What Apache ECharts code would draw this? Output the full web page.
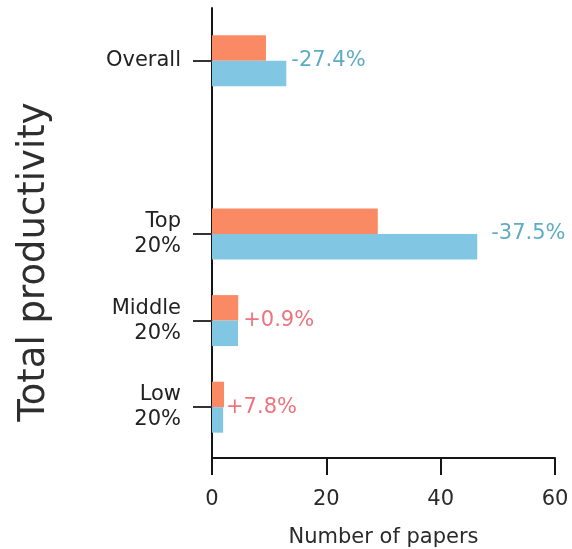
<!DOCTYPE html>
<html>
<head>
<meta charset="utf-8">
<script src="https://cdn.jsdelivr.net/npm/echarts@6/dist/echarts.min.js"></script>
<style>
  html, body { margin: 0; padding: 0; background: #fff; }
  #chart { width: 572px; height: 549px; }
</style>
</head>
<body>
<div id="chart"></div>
<script>
// Groups, listed bottom to top; the empty slot separates "Overall" from the tiers
const groups = ['Low\n20%', 'Middle\n20%', 'Top\n20%', '', 'Overall'];
// Number of papers per group (null = no bar in the spacer slot)
const afterValues  = [2.10, 4.59, 29.0, null, 9.44];
const beforeValues = [1.95, 4.55, 46.4, null, 13.0];
// Relative change printed beside each group, in percent
const pctChange = [7.8, 0.9, -37.5, null, -27.4];
const xTicks = [0, 20, 40, 60];

const ORANGE = '#fa8a64';
const BLUE = '#81c7e4';
const POS_TEXT = '#e8505e';
const NEG_TEXT = '#3596b6';
const FONT = '"DejaVu Sans", Verdana, sans-serif';

// extra horizontal padding for each change label
const labelPad = [2, 5, 14, 0, 5];

const changePoints = groups.map((g, i) => {
  if (pctChange[i] === null) return null;
  const p = pctChange[i];
  return {
    value: [Math.max(afterValues[i], beforeValues[i]), g],
    label: {
      show: true,
      position: 'right',
      distance: labelPad[i],
      formatter: (p > 0 ? '+' : '') + p.toFixed(1) + '%',
      color: p > 0 ? POS_TEXT : NEG_TEXT,
      fontSize: 21,
      fontFamily: FONT
    }
  };
}).filter(d => d);

const chart = echarts.init(document.getElementById('chart'), null, { renderer: 'canvas' });
chart.setOption({
  animation: false,
  backgroundColor: '#ffffff',
  grid: [
    { left: 212, right: 17, top: 17.5, bottom: 98.5, outerBoundsMode: 'none', containLabel: false },
    { left: 212, right: 17, top: 8, bottom: 91, outerBoundsMode: 'none', containLabel: false }
  ],
  graphic: [{
    type: 'text',
    x: 34, y: 262,
    rotation: Math.PI / 2,
    style: {
      text: 'Total productivity',
      fontSize: 37,
      fontFamily: FONT,
      fill: '#2e2e2e',
      textAlign: 'center',
      textVerticalAlign: 'middle'
    }
  }],
  xAxis: [
    { gridIndex: 0, type: 'value', min: xTicks[0], max: xTicks[xTicks.length - 1], interval: 20, show: false },
    {
      gridIndex: 1, type: 'value', min: xTicks[0], max: xTicks[xTicks.length - 1], interval: 20,
      axisLine: { show: true, lineStyle: { color: '#151515', width: 2 } },
      axisTick: { show: true, length: 17, lineStyle: { color: '#151515', width: 2 } },
      axisLabel: { margin: 31, fontSize: 21, color: '#2a2a2a', fontFamily: FONT },
      splitLine: { show: false },
      name: 'Number of papers',
      nameLocation: 'middle',
      nameGap: 69,
      nameTextStyle: { fontSize: 21, color: '#2a2a2a', fontFamily: FONT }
    }
  ],
  yAxis: [
    {
      gridIndex: 0, type: 'category', data: groups,
      axisLine: { show: false },
      axisTick: {
        show: true, alignWithLabel: true, length: 19,
        interval: (idx, val) => val !== '',
        lineStyle: { color: '#333', width: 2 }
      },
      axisLabel: {
        margin: 31, fontSize: 21, color: '#222', fontFamily: FONT,
        align: 'right', lineHeight: 25
      }
    },
    {
      gridIndex: 1, type: 'value', min: 0, max: 1,
      axisLine: { show: true, lineStyle: { color: '#151515', width: 2 } },
      axisTick: { show: false },
      axisLabel: { show: false },
      splitLine: { show: false }
    }
  ],
  series: [
    {
      type: 'bar', xAxisIndex: 0, yAxisIndex: 0,
      data: afterValues, barWidth: 25.5, barGap: '0%',
      itemStyle: { color: ORANGE }
    },
    {
      type: 'bar', xAxisIndex: 0, yAxisIndex: 0,
      data: beforeValues, barWidth: 25.5, barGap: '0%',
      itemStyle: { color: BLUE }
    },
    {
      type: 'scatter', xAxisIndex: 0, yAxisIndex: 0,
      symbolSize: 0, data: changePoints, silent: true
    }
  ]
});
</script>
</body>
</html>
